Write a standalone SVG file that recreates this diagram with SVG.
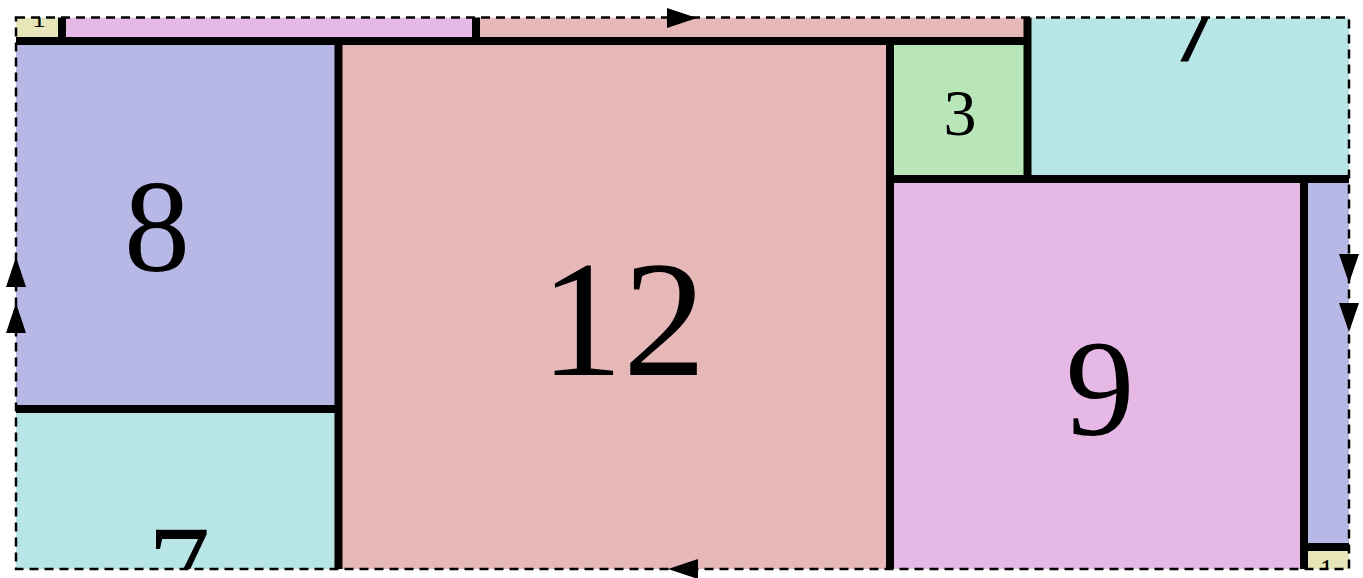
<svg xmlns="http://www.w3.org/2000/svg" width="1363" height="578" viewBox="0 0 1363 578">
  <style>
    .c1 { fill: #e6e6b8; }
    .c3 { fill: #b8e6b8; }
    .c7 { fill: #b8e6e6; }
    .c8 { fill: #b8b8e6; }
    .c9 { fill: #e6b8e6; }
    .c12 { fill: #e6b8b8; }
    .lbl { font-family: "Liberation Serif", "Times New Roman", serif; fill: #000; text-anchor: middle; }
    .edge { stroke: #000; stroke-width: 8; fill: none; stroke-linecap: butt; }
    .border { fill: none; stroke: #000; stroke-width: 2.5; stroke-dasharray: 9 6; }
    .arrow { fill: #000; }
  </style>
  <defs>
    <clipPath id="frame">
      <rect x="16" y="17.5" width="1333" height="551.5"/>
    </clipPath>
  </defs>
  <rect x="0" y="0" width="1363" height="578" fill="#ffffff"/>
  <g clip-path="url(#frame)">
    <g id="sq1">
      <rect class="c1" x="16" y="17.5" width="46" height="23.5"/>
      <rect class="c1" x="1304" y="547" width="45" height="22"/>
      <text class="lbl" x="39" y="27" font-size="27">1</text>
      <text class="lbl" x="1326.5" y="578" font-size="27">1</text>
    </g>
    <g id="sq9">
      <rect class="c9" x="62" y="17.5" width="414" height="23.5"/>
      <rect class="c9" x="890" y="179" width="414" height="390"/>
      <text class="lbl" x="1100" y="435" font-size="138">9</text>
    </g>
    <g id="sq12">
      <rect class="c12" x="476" y="17.5" width="551.5" height="23.5"/>
      <rect class="c12" x="338.5" y="41" width="551.5" height="528"/>
      <text class="lbl" x="623" y="375" font-size="166">12</text>
    </g>
    <g id="sq8">
      <rect class="c8" x="16" y="41" width="322.5" height="368"/>
      <rect class="c8" x="1304" y="179" width="45" height="368"/>
      <text class="lbl" x="157" y="271" font-size="132">8</text>
    </g>
    <g id="sq7">
      <rect class="c7" x="16" y="409" width="322.5" height="160"/>
      <rect class="c7" x="1027.5" y="17.5" width="321.5" height="161.5"/>
      <text class="lbl" x="179" y="612" font-size="125">7</text>
      <text class="lbl" x="1197" y="62" font-size="125">7</text>
    </g>
    <g id="sq3">
      <rect class="c3" x="890" y="41" width="137.5" height="138"/>
      <text class="lbl" x="960" y="135" font-size="66">3</text>
    </g>
  </g>
  <g id="connectors">
    <line class="edge" x1="16" y1="41" x2="1027.5" y2="41"/>
    <line class="edge" x1="62" y1="17.5" x2="62" y2="41"/>
    <line class="edge" x1="476" y1="17.5" x2="476" y2="41"/>
    <line class="edge" x1="1027.5" y1="17.5" x2="1027.5" y2="179"/>
    <line class="edge" x1="338.5" y1="41" x2="338.5" y2="569"/>
    <line class="edge" x1="16" y1="409" x2="338.5" y2="409"/>
    <line class="edge" x1="890" y1="41" x2="890" y2="569"/>
    <line class="edge" x1="890" y1="179" x2="1349" y2="179"/>
    <line class="edge" x1="1304" y1="179" x2="1304" y2="569"/>
    <line class="edge" x1="1304" y1="547" x2="1349" y2="547"/>
  </g>
  <g id="boundary">
    <rect class="border" x="16" y="17.5" width="1333" height="551.5"/>
    <polygon class="arrow" points="667,8 697,18 667,28"/>
    <polygon class="arrow" points="698,559 668,569 698,579"/>
    <polygon class="arrow" points="16,257 26,287 6,287"/>
    <polygon class="arrow" points="16,303 26,333 6,333"/>
    <polygon class="arrow" points="1339,254 1359,254 1349,283"/>
    <polygon class="arrow" points="1339,303 1359,303 1349,332"/>
  </g>
</svg>
